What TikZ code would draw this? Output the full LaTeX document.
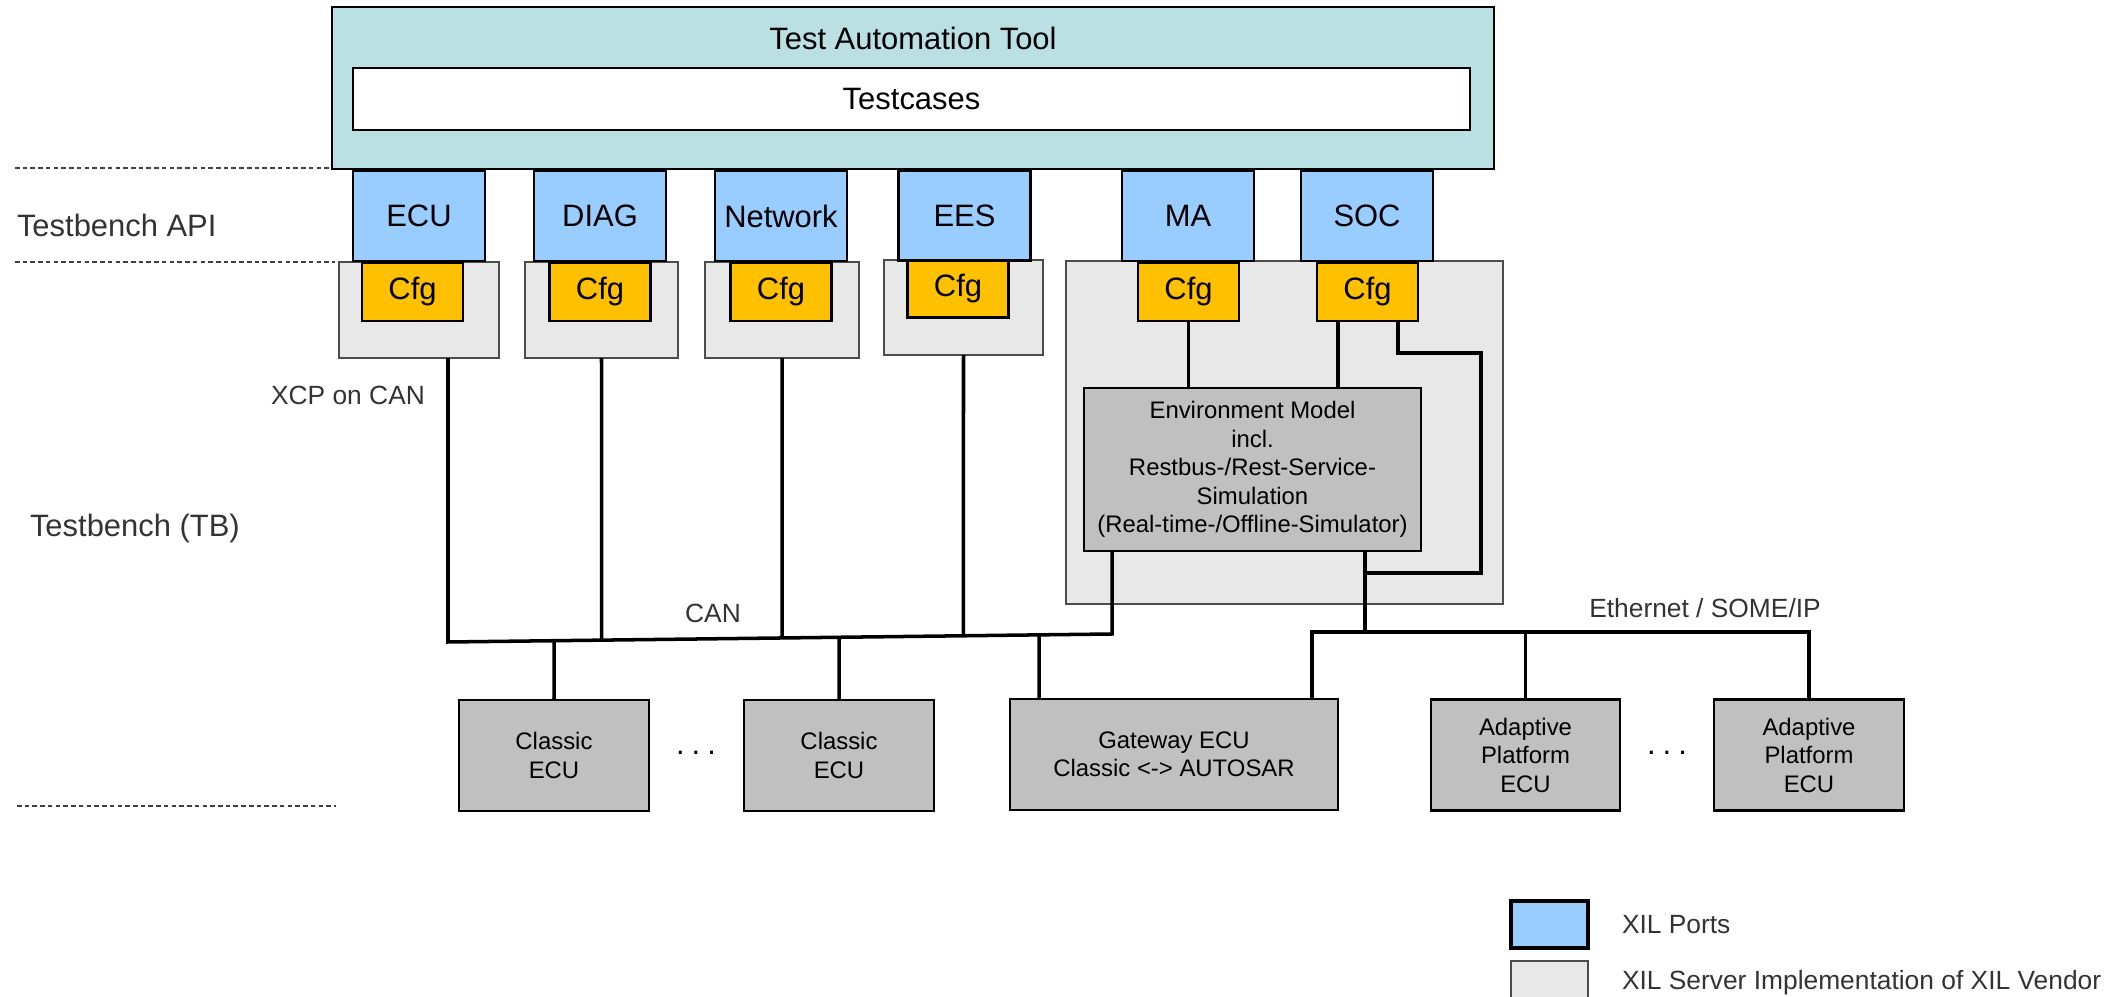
\documentclass[tikz,border=0pt]{standalone}
\usepackage{fontspec}
\setmainfont{Liberation Sans}
\usepackage{xcolor}
\usetikzlibrary{positioning}

\definecolor{toolfill}{HTML}{BBE0E3}
\definecolor{portfill}{HTML}{99CCFF}
\definecolor{cfgfill}{HTML}{FFC000}
\definecolor{serverfill}{HTML}{E8E8E8}
\definecolor{ecufill}{HTML}{C0C0C0}
\definecolor{labelgray}{HTML}{333333}

\newcommand{\bigfont}{\fontsize{8.8}{10.5}\selectfont}
\newcommand{\midfont}{\fontsize{7.5}{9}\selectfont}
\newcommand{\boxfont}{\fontsize{6.8}{8.1}\selectfont}
\newcommand{\moredots}{.\hspace{2pt}.\hspace{2pt}.}

\begin{document}
\begin{tikzpicture}[
	every node/.style={inner sep=0pt, outer sep=0pt},
	toolbox/.style={draw, line width=0.8pt, fill=toolfill, minimum width=11.62cm, minimum height=1.62cm},
	casebox/.style={draw, line width=0.8pt, fill=white, minimum width=11.17cm, minimum height=0.62cm, font=\bigfont},
	portbox/.style={draw, line width=0.7pt, fill=portfill, minimum width=1.32cm, minimum height=0.90cm, font=\bigfont},
	serverbox/.style={draw=black!70, line width=0.35pt, fill=serverfill},
	cfgbox/.style={draw, line width=0.7pt, fill=cfgfill, minimum width=1.01cm, minimum height=0.58cm, font=\bigfont},
	ecubox/.style={draw, line width=0.8pt, fill=ecufill, minimum height=1.11cm, align=center, font=\boxfont},
	sidelabel/.style={text=labelgray, font=\bigfont, anchor=west},
	buslabel/.style={text=labelgray, font=\midfont},
	wire/.style={line width=1pt},
	divider/.style={draw=black!75, line width=0.4pt, dash pattern=on 1.3pt off 0.9pt}
	]
	
	\useasboundingbox (0,0) rectangle (21.18,-9.97);
	
	\node[toolbox] (tool) at (9.13,-0.88) {};
	\node[font=\bigfont] (tooltitle) at (9.13,-0.38) {Test Automation Tool};
	\node[casebox] (cases) at (9.115,-0.99) {Testcases};
	
	\draw[divider] (0.15,-1.68) -- (3.31,-1.68);
	\draw[divider] (0.15,-2.62) -- (3.35,-2.62);
	\draw[divider] (0.17,-8.06) -- (3.36,-8.06);
	
	\node[sidelabel] (apilabel) at (0.17,-2.25) {Testbench API};
	\node[sidelabel] (tblabel) at (0.30,-5.29) {Testbench (TB)};
	
	\node[serverbox, minimum width=1.60cm, minimum height=0.96cm] (srvecu) at (4.19,-3.10) {};
	\node[serverbox, minimum width=1.53cm, minimum height=0.96cm] (srvdiag) at (6.015,-3.10) {};
	\node[serverbox, minimum width=1.54cm, minimum height=0.96cm] (srvnet) at (7.82,-3.10) {};
	\node[serverbox, minimum width=1.59cm, minimum height=0.95cm] (srvees) at (9.635,-3.075) {};
	\node[serverbox, minimum width=4.37cm, minimum height=3.43cm] (srvsim) at (12.845,-4.325) {};
	
	\node[cfgbox] (cfgecu) at (4.125,-2.92) {Cfg};
	\node[cfgbox] (cfgdiag) at (6.00,-2.92) {Cfg};
	\node[cfgbox] (cfgnet) at (7.81,-2.92) {Cfg};
	\node[cfgbox] (cfgees) at (9.58,-2.885) {Cfg};
	\node[cfgbox] (cfgma) at (11.885,-2.92) {Cfg};
	\node[cfgbox] (cfgsoc) at (13.675,-2.92) {Cfg};
	
	\node[portbox] (ecu) at (4.19,-2.16) {ECU};
	\node[portbox] (diag) at (6.00,-2.16) {DIAG};
	\node[portbox] (network) at (7.81,-2.16) {Network};
	\node[portbox] (ees) at (9.645,-2.155) {EES};
	\node[portbox] (ma) at (11.88,-2.16) {MA};
	\node[portbox] (soc) at (13.67,-2.16) {SOC};
	
	\node[ecubox, minimum width=3.37cm, minimum height=1.63cm] (envm) at (12.525,-4.695)
		{Environment Model\\incl.\\Restbus-/Rest-Service-\\Simulation\\(Real-time-/Offline-Simulator)};
	
	\node[ecubox, minimum width=1.90cm] (cls1) at (5.54,-7.555) {Classic\\ECU};
	\node[ecubox, minimum width=1.90cm] (cls2) at (8.39,-7.555) {Classic\\ECU};
	\node[ecubox, minimum width=3.28cm] (gw) at (11.74,-7.545) {Gateway ECU\\Classic <-> AUTOSAR};
	\node[ecubox, minimum width=1.89cm] (ap1) at (15.255,-7.55) {Adaptive\\Platform\\ECU};
	\node[ecubox, minimum width=1.90cm] (ap2) at (18.09,-7.55) {Adaptive\\Platform\\ECU};
	
	\node[font=\bigfont] (dotsa) at (6.96,-7.53) {\moredots};
	\node[font=\bigfont] (dotsb) at (16.67,-7.53) {\moredots};
	
	\coordinate (ethY) at (0,-6.32);
	\coordinate (loopY) at (0,-5.73);
	\coordinate (canL) at ([xshift=-5.1mm]srvecu.south east);
	\coordinate (canR) at ([xshift=2.8mm]envm.south west);
	\coordinate (canLbus) at (canL |- 0,-6.42);
	\coordinate (canRbus) at (canR |- 0,-6.34);
	\coordinate (gwcan) at ([xshift=2.9mm]gw.north west);
	\coordinate (gwcanlow) at ([xshift=2.9mm]gw.south west);
	\coordinate (gweth) at ([xshift=-2.6mm]gw.north east);
	\coordinate (envout) at ([xshift=-5.6mm]envm.south east);
	\coordinate (socenv) at ([xshift=2.1mm]cfgsoc.south west);
	\coordinate (socbus) at ([xshift=-2.0mm]cfgsoc.south east);
	\coordinate (loopcorner) at (14.81,-3.53);
	
	\draw[wire] (cfgma.south) -- (cfgma.south |- envm.north);
	\draw[wire] (socenv) -- (socenv |- envm.north);
	\draw[wire] (socbus) |- (loopcorner) |- (envout |- loopY);
	
	% CAN bus, slightly falling to the left
	\draw[wire] (canL) -- (canLbus) -- (canRbus) -- (canR);
	\draw[wire] (srvdiag.south) -- (intersection of canLbus--canRbus and srvdiag.south--srvdiag.north);
	\draw[wire] (srvnet.south) -- (intersection of canLbus--canRbus and srvnet.south--srvnet.north);
	\draw[wire] (srvees.south) -- (intersection of canLbus--canRbus and srvees.south--srvees.north);
	\draw[wire] (cls1.north) -- (intersection of canLbus--canRbus and cls1.north--cls1.south);
	\draw[wire] (cls2.north) -- (intersection of canLbus--canRbus and cls2.north--cls2.south);
	\draw[wire] (gwcan) -- (intersection of canLbus--canRbus and gwcan--gwcanlow);
	
	\draw[wire] (envout) -- (envout |- ethY);
	\draw[wire] (gweth) |- (ap2.north |- ethY) -- (ap2.north);
	\draw[wire] (ap1.north) -- (ap1.north |- ethY);
	
	\node[buslabel] (xcplabel) at (3.48,-3.95) {XCP on CAN};
	\node[buslabel] (canlabel) at (7.13,-6.13) {CAN};
	\node[buslabel] (ethlabel) at (17.05,-6.08) {Ethernet / SOME/IP};
	
	\node[draw, line width=0.9pt, fill=portfill, minimum width=0.77cm, minimum height=0.47cm] (legport) at (15.495,-9.245) {};
	\node[serverbox, minimum width=0.77cm, minimum height=0.49cm] (legserver) at (15.495,-9.855) {};
	\node[buslabel, anchor=west] (legporttext) at (16.22,-9.25) {XIL Ports};
	\node[buslabel, anchor=west] (legservertext) at (16.22,-9.83) {XIL Server Implementation of XIL Vendor};
	
\end{tikzpicture}
\end{document}
